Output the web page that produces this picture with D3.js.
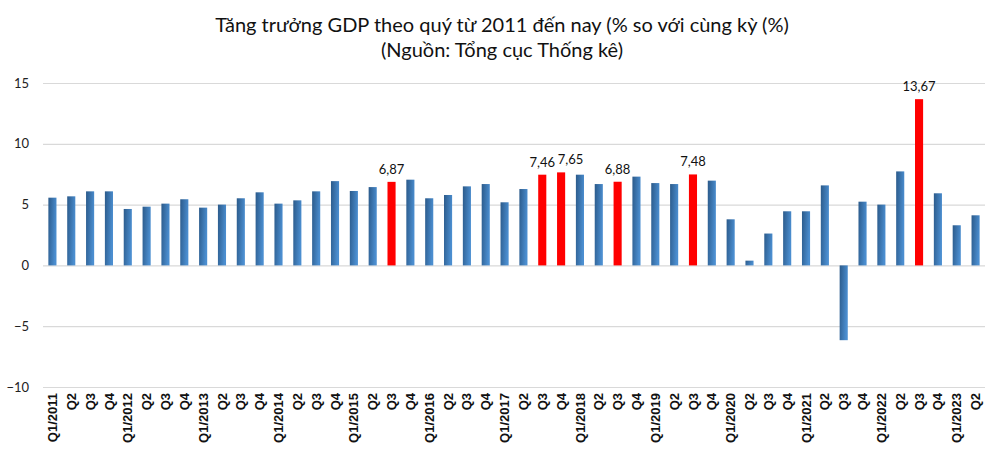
<!DOCTYPE html>
<html><head><meta charset="utf-8">
<script src="https://cdn.jsdelivr.net/npm/d3@7"></script>
<style>body{margin:0;background:#fff;} svg{display:block;}</style>
</head><body>
<svg id="c" width="1000" height="461"></svg>
<script>
const titleLines = ["Tăng trưởng GDP theo quý từ 2011 đến nay (% so với cùng kỳ (%)", "(Nguồn: Tổng cục Thống kê)"];
const quarters = [
 "Q1/2011","Q2","Q3","Q4","Q1/2012","Q2","Q3","Q4","Q1/2013","Q2","Q3","Q4",
 "Q1/2014","Q2","Q3","Q4","Q1/2015","Q2","Q3","Q4","Q1/2016","Q2","Q3","Q4",
 "Q1/2017","Q2","Q3","Q4","Q1/2018","Q2","Q3","Q4","Q1/2019","Q2","Q3","Q4",
 "Q1/2020","Q2","Q3","Q4","Q1/2021","Q2","Q3","Q4","Q1/2022","Q2","Q3","Q4",
 "Q1/2023","Q2"];
const growth = [
 5.57,5.68,6.09,6.09, 4.64,4.83,5.08,5.44, 4.75,5.00,5.52,6.01,
 5.08,5.35,6.09,6.93, 6.12,6.44,6.87,7.05, 5.52,5.79,6.50,6.69,
 5.19,6.28,7.46,7.65, 7.46,6.69,6.88,7.30, 6.77,6.69,7.48,6.97,
 3.79,0.39,2.62,4.45, 4.45,6.58,-6.15,5.24, 5.00,7.73,13.67,5.93,
 3.30,4.12];
const highlighted = [18,26,27,30,34,46];
const yTicks = [-10,-5,0,5,10,15];

const svg = d3.select("#c");
const defs = svg.append("defs");
const g1 = defs.append("linearGradient").attr("id","blueGrad").attr("x1","0").attr("y1","0").attr("x2","1").attr("y2","0.3");
g1.append("stop").attr("offset","0%").attr("stop-color","#2b5a8a");
g1.append("stop").attr("offset","100%").attr("stop-color","#4b8ed0");

const pL = 43, pR = 985, pT = 83, pB = 387;
const x = d3.scaleBand().domain(d3.range(quarters.length)).range([pL,pR]).paddingInner(0.57).paddingOuter(0.285);
const y = d3.scaleLinear().domain([-10,15]).range([pB, pT]);

// title
svg.selectAll("text.title").data(titleLines).enter().append("text")
  .attr("class","title")
  .attr("x",502).attr("y",(d,i)=>32+i*25).attr("text-anchor","middle")
  .attr("font-family","Lato, 'Open Sans', sans-serif").attr("font-size",20).attr("fill","#111")
  .text(d=>d);

// grid
const yAxis = d3.axisLeft(y).tickValues(yTicks).tickSize(-(pR-pL)).tickPadding(14).tickFormat(d3.format("d"));
const ga = svg.append("g").attr("transform",`translate(${pL},0)`).call(yAxis);
ga.select(".domain").remove();
ga.selectAll(".tick line").attr("stroke","#d9d9d9").attr("stroke-width",1.2);
ga.selectAll(".tick text").attr("font-family","Lato, 'Open Sans', sans-serif").attr("font-size",13).attr("fill","#222");

// bars
svg.append("g").selectAll("rect").data(growth).enter().append("rect")
  .attr("x",(d,i)=>x(i)).attr("width",x.bandwidth())
  .attr("y",d=>y(Math.max(0,d))).attr("height",d=>Math.abs(y(d)-y(0)))
  .attr("fill",(d,i)=>highlighted.includes(i)?"#ff0000":"url(#blueGrad)");

// labels (nudge a label right when its left neighbour is also labelled)
const step = x.step();
svg.append("g").selectAll("text").data(highlighted).enter().append("text")
  .attr("x",i=>x(i)+x.bandwidth()/2 + (highlighted.includes(i-1) ? step*0.5 : 0))
  .attr("y",i=>y(growth[i])-8)
  .attr("text-anchor","middle").attr("font-family","Lato, 'Open Sans', sans-serif").attr("font-size",13).attr("fill","#111")
  .text(i=>growth[i].toFixed(2).replace(".",","));

// x axis labels
const xAxis = d3.axisBottom(x).tickSize(0).tickFormat(i=>quarters[i]);
const gx = svg.append("g").attr("transform",`translate(0,${pB})`).call(xAxis);
gx.select(".domain").remove();
gx.selectAll(".tick text").attr("transform","rotate(-90)").attr("text-anchor","end")
  .attr("x",-6).attr("y",0).attr("dy","0.35em")
  .attr("font-family","'Liberation Sans', Arial, sans-serif").attr("font-weight","bold").attr("font-size",13).attr("fill","#111");
</script>
</body></html>
